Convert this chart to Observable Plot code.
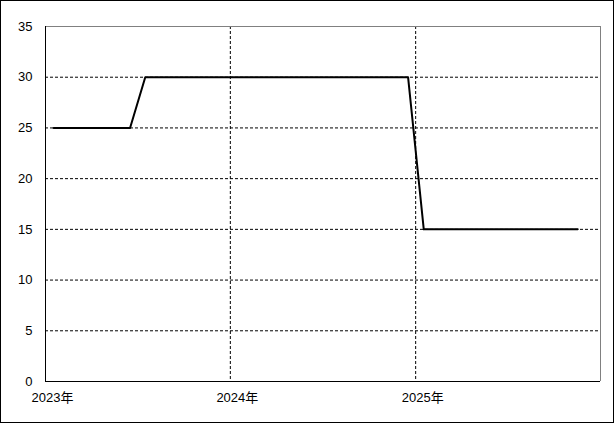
<!DOCTYPE html>
<html>
<head>
<meta charset="utf-8">
<script src="https://cdn.jsdelivr.net/npm/d3@7"></script>
<script src="https://cdn.jsdelivr.net/npm/@observablehq/plot@0.6"></script>
<style>
  html, body { margin: 0; padding: 0; background: #fff; }
  #chart { position: relative; width: 615px; height: 424px; }
  #chart svg { display: block; }
</style>
</head>
<body>
<div id="chart"></div>
<script>
// Data (turning points of the step series)
const dates = ["2023-01-17", "2023-06-17", "2023-07-17", "2024-12-17", "2025-01-17", "2025-11-17"];
const values = [25, 25, 30, 30, 15, 15];
const yTicks = [0, 5, 10, 15, 20, 25, 30, 35];
const gridY = [5, 10, 15, 20, 25, 30];
const xTickDates = ["2023-01-01", "2024-01-01", "2025-01-01"];
const xGridDates = ["2024-01-01", "2025-01-01"];
const xDomain = ["2023-01-01", "2026-01-01"];

const data = dates.map((d, i) => ({date: new Date(d), value: values[i]}));
const xd = xDomain.map(d => new Date(d));

const plot = Plot.plot({
  width: 615,
  height: 424,
  marginLeft: 45,
  marginRight: 15,
  marginTop: 26,
  marginBottom: 43,
  style: {fontFamily: "'Liberation Sans', 'Noto Sans CJK JP', sans-serif", fontSize: "13px", color: "#000", background: "#fff"},
  x: {type: "utc", domain: xd},
  y: {domain: [0, 35]},
  marks: [
    Plot.ruleY(gridY, {stroke: "#000", strokeWidth: 1, strokeDasharray: "3,2"}),
    Plot.ruleX(xGridDates.map(d => new Date(d)), {stroke: "#000", strokeWidth: 1, strokeDasharray: "3,2"}),
    Plot.ruleY([35], {stroke: "#808080", strokeWidth: 1}),
    Plot.ruleX([xd[1]], {stroke: "#808080", strokeWidth: 1}),
    Plot.ruleY([0], {stroke: "#000", strokeWidth: 1}),
    Plot.ruleX([xd[0]], {stroke: "#000", strokeWidth: 1}),
    Plot.axisY({ticks: yTicks, tickSize: 0, tickPadding: 13, label: null, fontSize: 13}),
    Plot.axisX({ticks: xTickDates.map(d => new Date(d)), tickSize: 0, tickPadding: 11, dx: 7, label: null,
      tickFormat: d => d.getUTCFullYear() + "年", fontSize: 13}),
    Plot.line(data, {x: "date", y: "value", stroke: "#000", strokeWidth: 2, curve: "linear"})
  ]
});
document.getElementById("chart").appendChild(plot);
// outer border of the image
d3.select(plot).append("rect")
  .attr("x", 0.5).attr("y", 0.5).attr("width", 613).attr("height", 422)
  .attr("fill", "none").attr("stroke", "#000").attr("stroke-width", 1);
</script>
</body>
</html>
